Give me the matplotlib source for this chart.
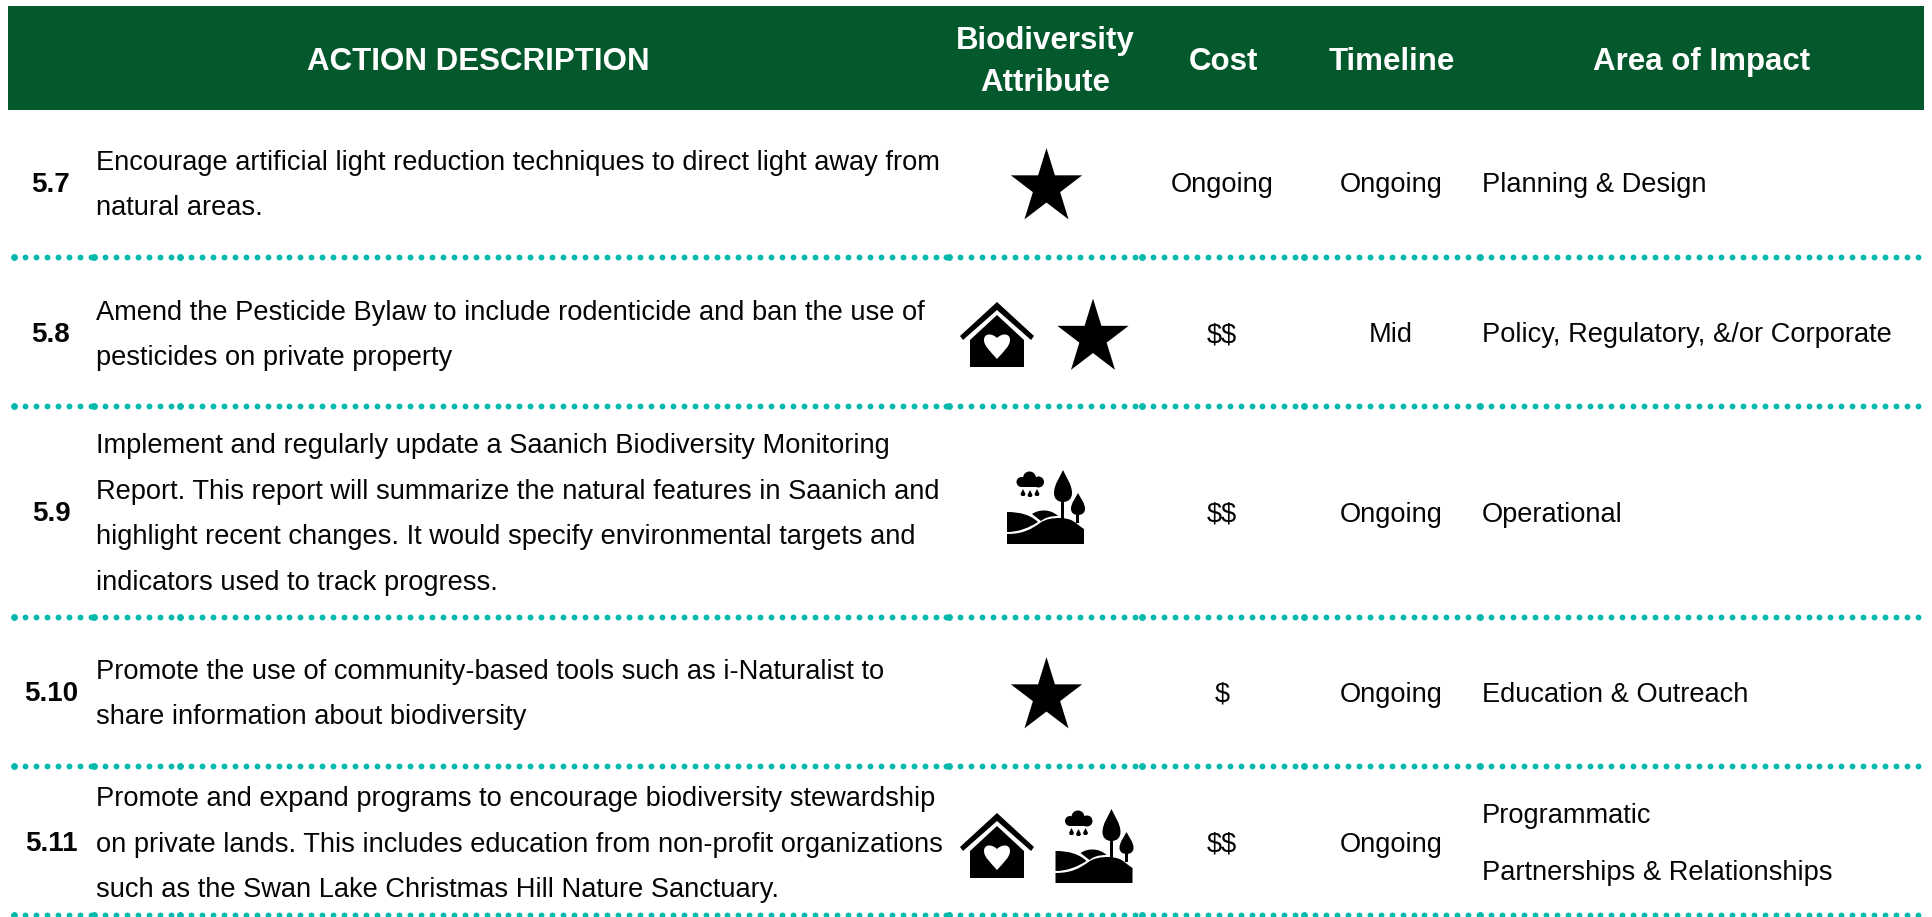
import matplotlib
matplotlib.use('Agg')
import matplotlib.pyplot as plt
import matplotlib.patches as patches
from matplotlib.path import Path
import numpy as np

plt.rcParams['font.family'] = ['Liberation Sans', 'DejaVu Sans']

headers = ['ACTION DESCRIPTION', 'Biodiversity\nAttribute', 'Cost', 'Timeline', 'Area of Impact']
ids = ['5.7', '5.8', '5.9', '5.10', '5.11']
descriptions = [
    ['Encourage artificial light reduction techniques to direct light away from', 'natural areas.'],
    ['Amend the Pesticide Bylaw to include rodenticide and ban the use of', 'pesticides on private property'],
    ['Implement and regularly update a Saanich Biodiversity Monitoring',
     'Report. This report will summarize the natural features in Saanich and',
     'highlight recent changes. It would specify environmental targets and',
     'indicators used to track progress.'],
    ['Promote the use of community-based tools such as i-Naturalist to', 'share information about biodiversity'],
    ['Promote and expand programs to encourage biodiversity stewardship',
     'on private lands. This includes education from non-profit organizations',
     'such as the Swan Lake Christmas Hill Nature Sanctuary.'],
]
attributes = [['star'], ['house', 'star'], ['land'], ['star'], ['house', 'land']]
costs = ['Ongoing', '$$', '$$', '$', '$$']
timelines = ['Ongoing', 'Mid', 'Ongoing', 'Ongoing', 'Ongoing']
areas = [['Planning & Design'], ['Policy, Regulatory, &/or Corporate'], ['Operational'],
         ['Education & Outreach'], ['Programmatic', 'Partnerships & Relationships']]

row_centers = [183, 333, 512, 692, 842]
rule_ys = [257, 406, 617, 766, 915]
# the dotted rules restart at each table cell edge
rule_edges = [14, 94, 180, 949, 1142, 1304, 1480, 1925]
# where each icon sits relative to its row centre
icon_dx = [[1046.5], [997, 1093], [1045.5], [1046.5], [997, 1094]]
icon_dy = [[4.5], [0, 5], [0], [4.5], [2, 9]]

GREEN = '#03582c'
TEAL = '#04b8ac'
INK = '#050505'
FS = 19.58
M, L, C = Path.MOVETO, Path.LINETO, Path.CURVE4

fig = plt.figure(figsize=(19.33, 9.17), dpi=100)
ax = fig.add_axes([0, 0, 1, 1])
ax.set_xlim(0, 1933)
ax.set_ylim(917, 0)
ax.axis('off')


def shape(cx, cy, v, c, color='k'):
    ax.add_patch(patches.PathPatch(Path([(cx + a, cy + b) for a, b in v], c), fc=color, ec='none'))


def star(cx, cy, r=37.5):
    ang = np.deg2rad(-90 + 36 * np.arange(10))
    rad = np.where(np.arange(10) % 2 == 0, r, r * 0.382)
    # the icon is a touch taller than a regular star
    ax.add_patch(patches.Polygon(np.c_[cx + rad * np.cos(ang), cy + 1.05 * rad * np.sin(ang)],
                                 fc='k', ec='none'))


def house(cx, cy):
    # roof
    shape(cx, cy, [(-37, 3), (0, -31), (37, 3), (34, 7), (0, -23), (-34, 7)], [M, L, L, L, L, L])
    # walls
    shape(cx, cy, [(-27, 7), (0, -18), (27, 7), (27, 34), (-27, 34)], [M, L, L, L, L])
    # heart
    v = [(0, 26), (-7, 18), (-13, 13), (-13, 7), (-13, 0), (-5, 0), (0, 5),
         (5, 0), (13, 0), (13, 7), (13, 13), (7, 18), (0, 26)]
    shape(cx, cy, v, [M] + [C] * 12, 'w')


def land(cx, cy):
    # ground
    shape(cx, cy, [(-38.5, 32), (-38.5, 22), (-22, 22), (-14, 17), (-5.5, 11), (0, 7), (7, 6), (14.5, 6),
                   (19, 6), (24, 7), (27.5, 9), (31, 11), (35, 15), (38.5, 17), (38.5, 32)],
          [M, L, C, C, C, C, C, C, C, C, C, C, C, C, L])
    # front hill
    shape(cx, cy, [(-38.5, 0), (-25, 0), (-15, 3), (-7.5, 10), (-17, 16), (-27, 20), (-38.5, 20)],
          [M, C, C, C, C, C, C])
    # back hill
    shape(cx, cy, [(-13.5, 2), (-6, -3), (5, -3), (12.5, 4), (4, 4), (-1, 6), (-4.5, 9)],
          [M, C, C, C, C, C, C])
    # trees
    for tx, top, w, h, base in [(17.5, -42, 9, 32, 8), (32.5, -19, 7, 22, 11)]:
        shape(cx, cy, [(tx - 1.5, base), (tx - 1.5, top + h - 1), (tx + 1.5, top + h - 1), (tx + 1.5, base)],
              [M, L, L, L])
        shape(cx, cy, [(tx, top), (tx - 0.3 * w, top + 0.2 * h), (tx - w, top + 0.45 * h), (tx - w, top + 0.72 * h),
                       (tx - w, top + 0.9 * h), (tx - 0.6 * w, top + h), (tx, top + h),
                       (tx + 0.6 * w, top + h), (tx + w, top + 0.9 * h), (tx + w, top + 0.72 * h),
                       (tx + w, top + 0.45 * h), (tx + 0.3 * w, top + 0.2 * h), (tx, top)],
              [M] + [C] * 12)
    # cloud and rain
    for a, b, r in [(-24, -30, 5), (-16, -34, 6.5), (-7, -30, 5.5)]:
        ax.add_patch(patches.Circle((cx + a, cy + b), r, fc='k', ec='none'))
    ax.add_patch(patches.Rectangle((cx - 24, cy - 33), 17, 8, fc='k', ec='none'))
    for a, b in [(-22.5, -19), (-15.5, -18), (-8.5, -19)]:
        ax.add_patch(patches.Polygon([(cx + a, cy + b - 4), (cx + a - 2.5, cy + b + 1), (cx + a - 1.5, cy + b + 3),
                                      (cx + a + 1.5, cy + b + 3), (cx + a + 2.5, cy + b + 1)], fc='k', ec='none'))


drawers = {'star': star, 'house': house, 'land': land}

# header band
ax.add_patch(patches.Rectangle((8, 6), 1916, 104, fc=GREEN, ec='none'))
for text, x in zip(headers, [478, 1045, 1223, 1392, 1702]):
    ax.text(x, 62, text, color='w', fontsize=22.5, fontweight='bold', ha='center', va='center',
            linespacing=1.52)

# rows
for i, cy in enumerate(row_centers):
    ax.text(51, cy + 2, ids[i], fontsize=20, fontweight='bold', ha='center', va='center', color=INK)
    n = len(descriptions[i])
    for j, line in enumerate(descriptions[i]):
        ax.text(96, cy + 2.5 + (j - (n - 1) / 2) * 45.8, line, fontsize=FS, ha='left', va='center', color=INK)
    ax.text(1222, cy + 2.5, costs[i], fontsize=FS, ha='center', va='center', color=INK, parse_math=False)
    ax.text(1391, cy + 2.5, timelines[i], fontsize=FS, ha='center', va='center', color=INK)
    m = len(areas[i])
    for j, line in enumerate(areas[i]):
        ax.text(1482, cy + 2.5 + (j - (m - 1) / 2) * 57, line, fontsize=FS, ha='left', va='center', color=INK)

    for name, dx, dy in zip(attributes[i], icon_dx[i], icon_dy[i]):
        drawers[name](dx, cy + dy)

# dotted rules
for y in rule_ys:
    for x0, x1 in zip(rule_edges[:-1], rule_edges[1:]):
        xs = np.arange(x0, x1, 10.95)
        ax.plot(xs, np.full_like(xs, y), 'o', color=TEAL, ms=4.2, mew=0, clip_on=False)
        ax.plot(xs[:1], [y], 'o', color=TEAL, ms=4.9, mew=0, clip_on=False)

fig.savefig('out.png', dpi=100)
